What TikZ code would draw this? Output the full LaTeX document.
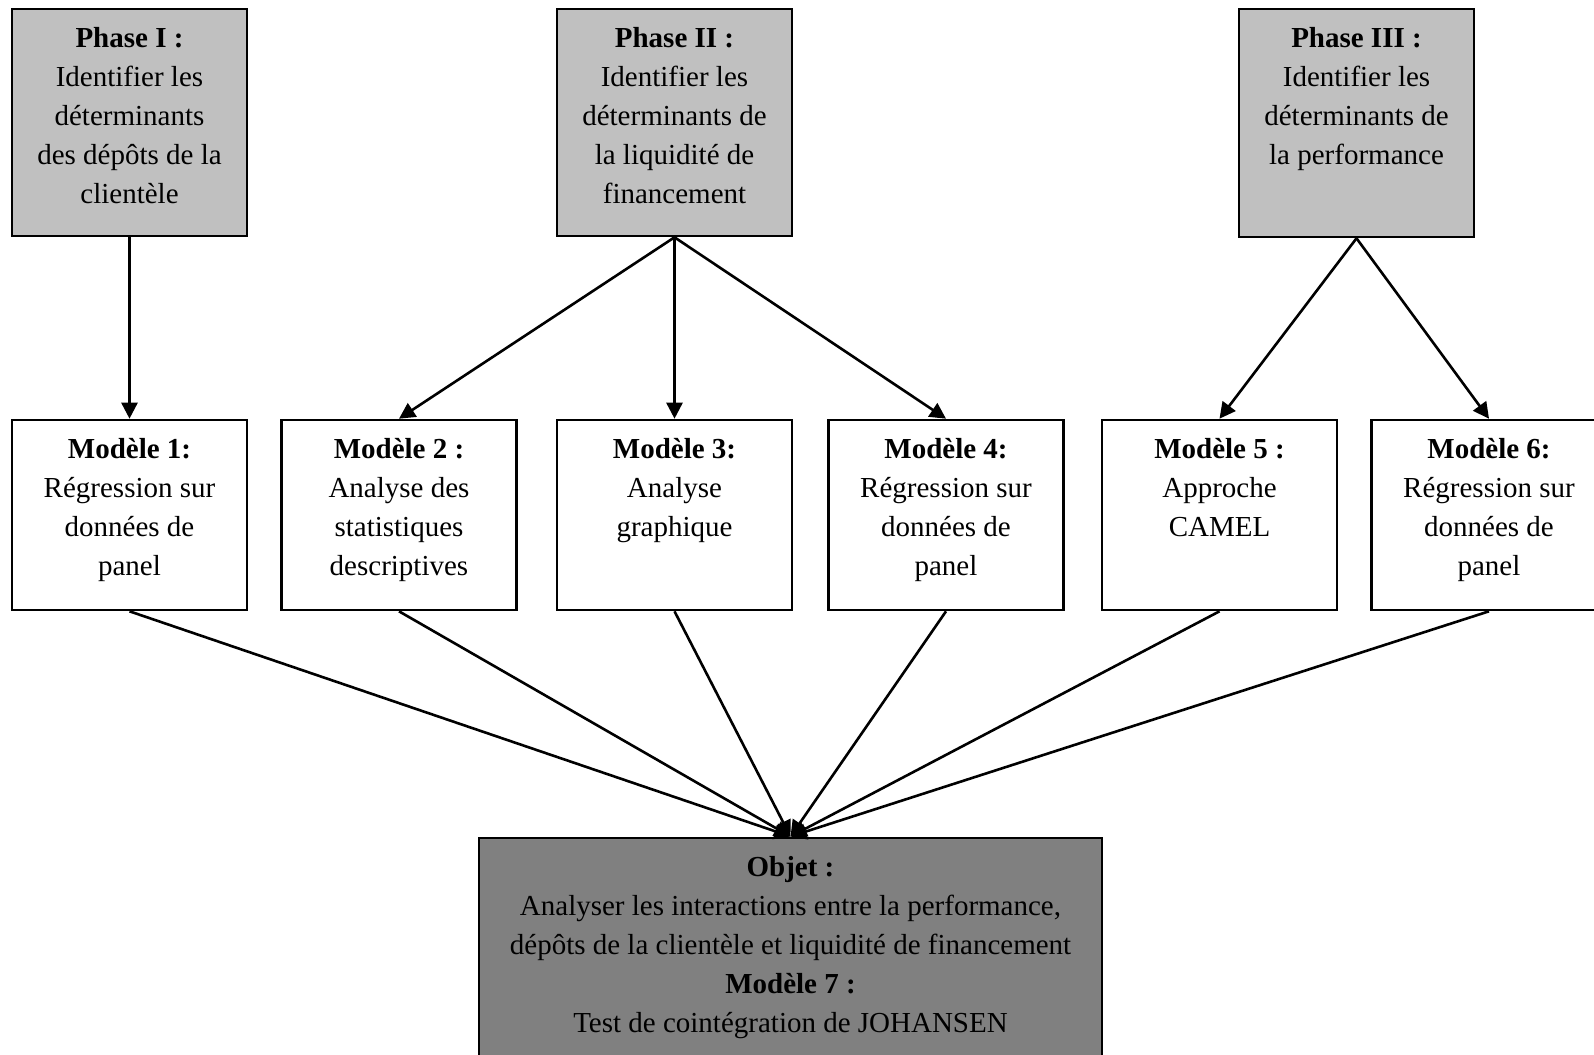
\documentclass[tikz,border=0pt]{standalone}
\usepackage{fontspec}
\setmainfont{Liberation Serif}
\usetikzlibrary{arrows.meta}
\definecolor{phasegray}{RGB}{192,192,192}
\definecolor{objgray}{RGB}{128,128,128}
\newcommand{\bxtext}[3]{\parbox[c][#2][t]{#1}{\centering\rule{0pt}{19.4pt}#3}}
\begin{document}
\begin{tikzpicture}[x=0.5pt,y=-0.5pt,
  box/.style={draw=black,line width=1.3pt,inner sep=0pt,font=\fontsize{14.5}{19.5}\selectfont},
  phasebox/.style={box,fill=phasegray},
  modelbox/.style={box,fill=white},
  objbox/.style={box,fill=objgray},
  arr/.style={line width=1.3pt,-{Triangle[length=8pt,width=8pt]}}]
\useasboundingbox (0,0) rectangle (1594,1054);
\clip (0,0) rectangle (1594,1054);
\fill[white] (0,0) rectangle (1594,1054);
% phases
\node[phasebox] (p1) at (129.5,122.5) {\bxtext{117.5pt}{113.5pt}{\textbf{Phase I :}\\Identifier les\\déterminants\\des dépôts de la\\clientèle}};
\node[phasebox] (p2) at (674.5,122.5) {\bxtext{117.5pt}{113.5pt}{\textbf{Phase II :}\\Identifier les\\déterminants de\\la liquidité de\\financement}};
\node[phasebox] (p3) at (1356.5,123) {\bxtext{117.5pt}{114pt}{\textbf{Phase III :}\\Identifier les\\déterminants de\\la performance}};
% models
\node[modelbox] (m1) at (129.5,515) {\bxtext{117.5pt}{95pt}{\textbf{Modèle 1:}\\Régression sur\\données de\\panel}};
\node[modelbox] (m2) at (399,515) {\bxtext{117.5pt}{95pt}{\textbf{Modèle 2 :}\\Analyse des\\statistiques\\descriptives}};
\node[modelbox] (m3) at (674.5,515) {\bxtext{117.5pt}{95pt}{\textbf{Modèle 3:}\\Analyse\\graphique}};
\node[modelbox] (m4) at (946,515) {\bxtext{117.5pt}{95pt}{\textbf{Modèle 4:}\\Régression sur\\données de\\panel}};
\node[modelbox] (m5) at (1219.5,515) {\bxtext{117.5pt}{95pt}{\textbf{Modèle 5 :}\\Approche\\CAMEL}};
\node[modelbox] (m6) at (1489,515) {\bxtext{117.5pt}{95pt}{\textbf{Modèle 6:}\\Régression sur\\données de\\panel}};
% objective
\node[objbox,anchor=north] (obj) at (790.5,836.5) {\bxtext{311.5pt}{120pt}{\textbf{Objet :}\\Analyser les interactions entre la performance,\\dépôts de la clientèle et liquidité de financement\\\textbf{Modèle 7 :}\\Test de cointégration de JOHANSEN}};
% arrows
\draw[arr] (p1.south) -- (m1.north);
\draw[arr] (p2.south) -- (m2.north);
\draw[arr] (p2.south) -- (m3.north);
\draw[arr] (p2.south) -- (m4.north);
\draw[arr] (p3.south) -- (m5.north);
\draw[arr] (p3.south) -- (m6.north);
\foreach \m in {m1,m2,m3,m4,m5,m6}{\draw[arr] (\m.south) -- (obj.north);}
\end{tikzpicture}
\end{document}
